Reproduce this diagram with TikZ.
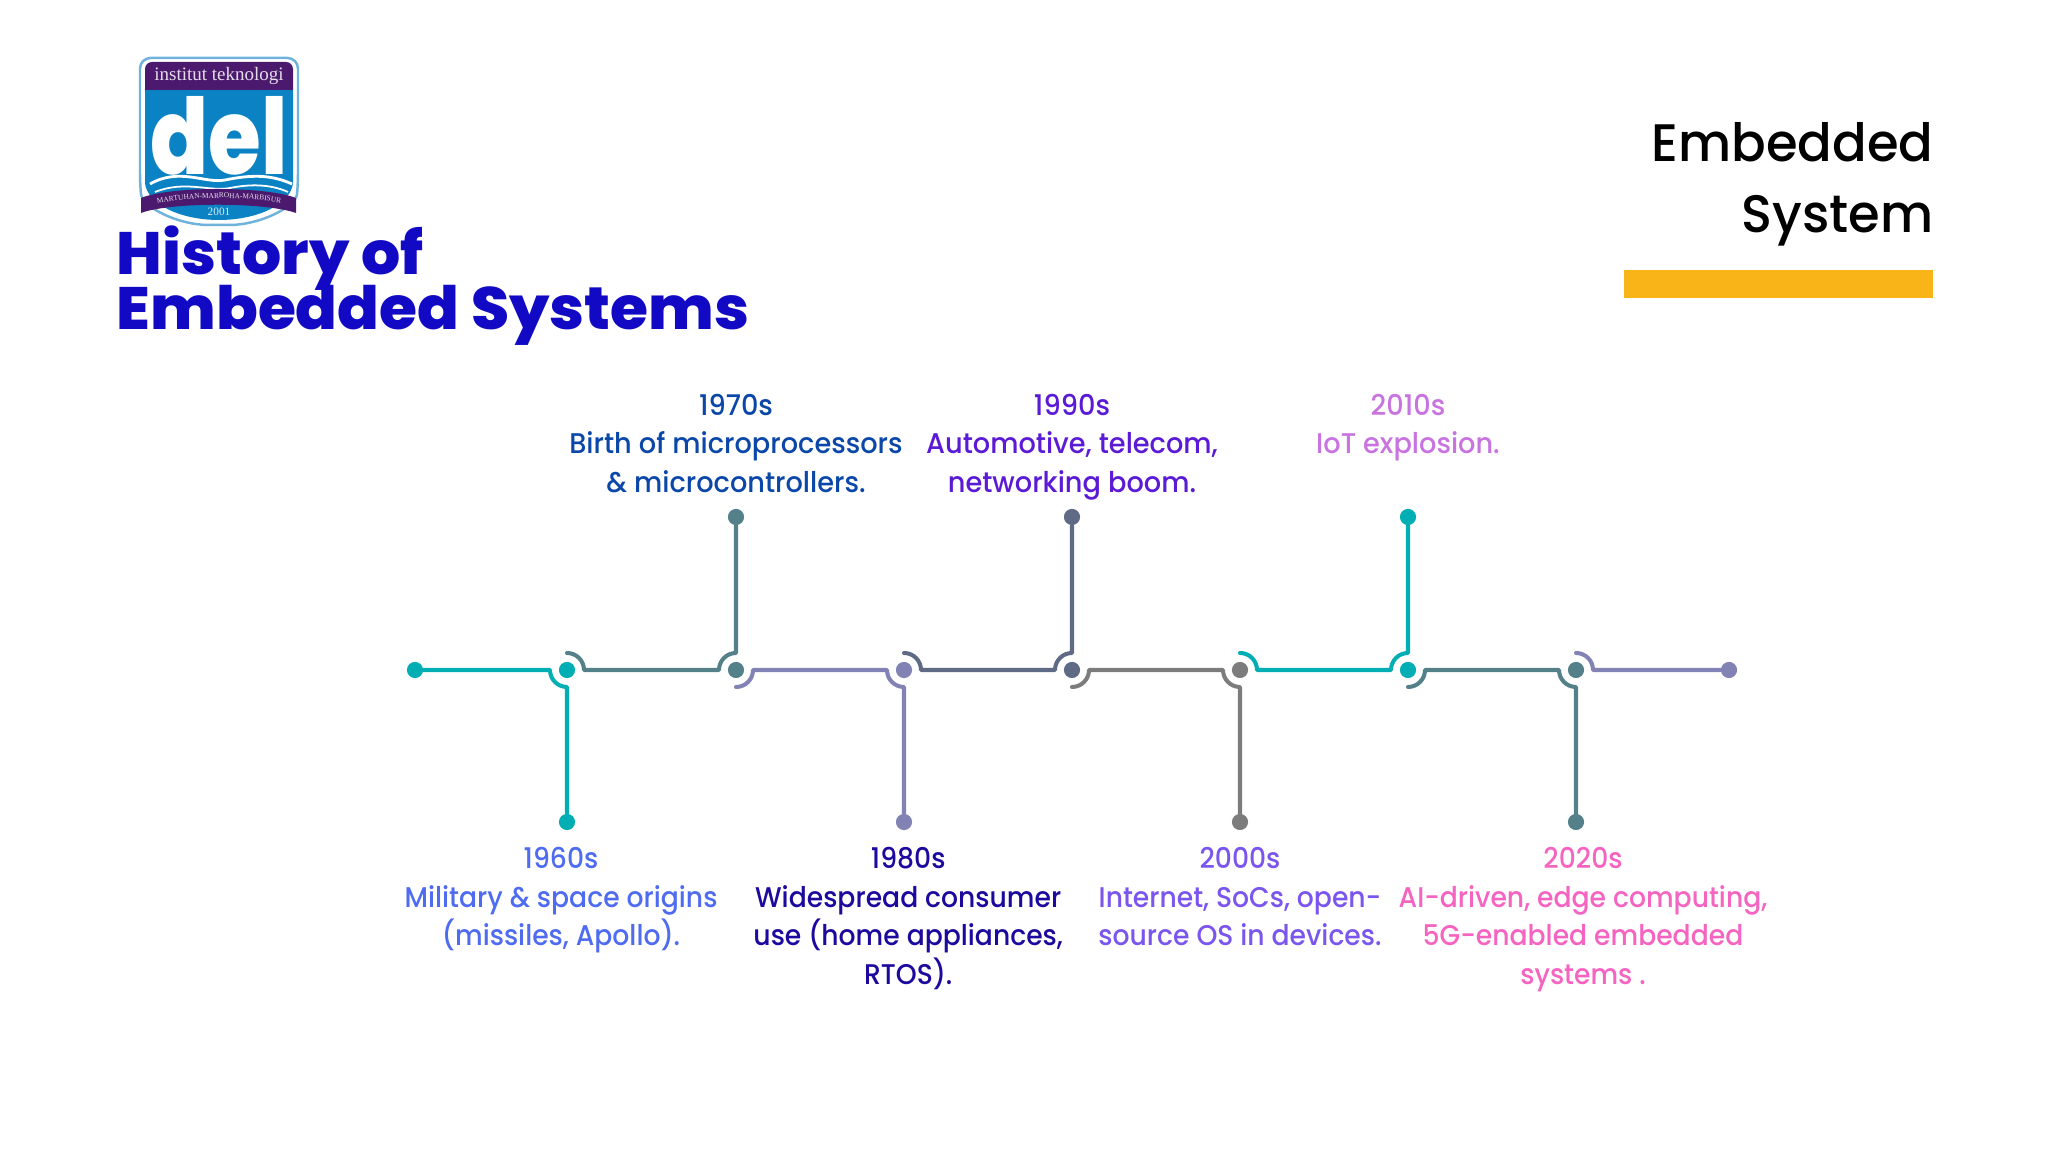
\documentclass[tikz,border=0pt]{standalone}
\usepackage{fontspec}
\setmainfont{Poppins}
\newfontfamily\labelfont{Poppins Medium}[FakeStretch=.955]
\newfontfamily\lowfont{Poppins Medium}[FakeStretch=.935]
\newfontfamily\cornerfont{Poppins Medium}[FakeStretch=.97]
\newfontfamily\titlefont{Poppins ExtraBold}[FakeStretch=1.03]
\newfontfamily\logosans{Poppins ExtraBold}
\newfontfamily\logoserif{Liberation Serif}
\usetikzlibrary{calc,positioning,decorations.text}
\definecolor{tealline}{HTML}{00AEB3}
\definecolor{slateline}{HTML}{54808A}
\definecolor{purpleline}{HTML}{8282B5}
\definecolor{duskline}{HTML}{5F6A84}
\definecolor{grayline}{HTML}{7C7C7C}
\definecolor{titleblue}{HTML}{1209C4}
\definecolor{barorange}{HTML}{F9B418}
\definecolor{logopurple}{HTML}{4B1A6E}
\definecolor{logoblue}{HTML}{0B82C4}
\definecolor{logoedge}{HTML}{6FB3DC}
\definecolor{textsixty}{HTML}{4F6CF0}
\definecolor{textseventy}{HTML}{0A47A8}
\definecolor{texteighty}{HTML}{1C0A9E}
\definecolor{textninety}{HTML}{5A1AD6}
\definecolor{textnoughts}{HTML}{7A55EE}
\definecolor{texttens}{HTML}{C873E0}
\definecolor{texttwenties}{HTML}{F564C0}
\tikzset{x=0.01cm,y=0.01cm,
	node distance=4pt,
	dotnode/.style={
		circle,
		minimum size=4.6pt,
		inner sep=0pt,
		fill=#1
	},
	seg/.style={
		draw=#1,
		line width=1.15pt,
		line cap=round,
		line join=round
	},
	yeartext/.style={
		align=center,
		inner sep=0pt,
		font=\lowfont\fontsize{8.1}{10.95}\selectfont
	},
	uptext/.style={
		yeartext,
		font=\labelfont\fontsize{8.1}{10.95}\selectfont,
		text depth=0pt
	},
	titletext/.style={
		anchor=base west,
		inner sep=0pt,
		text=titleblue,
		font=\titlefont\fontsize{17}{15.65}\selectfont
	},
	cornertext/.style={
		anchor=base east,
		inner sep=0pt,
		font=\cornerfont\fontsize{15}{15}\selectfont
	}
}
\begin{document}
\begin{tikzpicture}
	\useasboundingbox (0,0) rectangle (2048,1152);

	% logo
	\fill[white,draw=logoedge,line width=.7pt,rounded corners=3pt] (140,1094) -- (298,1094) -- (298,969)
		.. controls (296,945) and (260,927) .. (219,927)
		.. controls (178,927) and (142,945) .. (140,969) -- cycle;
	\fill[logoblue] (145,1062) -- (293,1062) -- (293,969)
		.. controls (291,948) and (258,932) .. (219,932)
		.. controls (180,932) and (147,948) .. (145,969) -- cycle;
	\fill[logopurple] (145,1062) [rounded corners=2pt] -- (145,1090) -- (293,1090) [sharp corners] -- (293,1062) -- cycle;
	\node[inner sep=0pt,text=white!85!logopurple,font=\logoserif\fontsize{5.4}{6}\selectfont] (logotop) at (219,1076) {institut teknologi};
	\node[inner sep=0pt,anchor=base,text=white,xscale=.81,font=\logosans\fontsize{30}{30}\selectfont] (logodel) at (219,977) {del};
	\draw[white,line width=.8pt] (150,968) .. controls (180,985) and (205,968) .. (225,972) .. controls (250,977) and (270,978) .. (292,968);
	\draw[white,line width=.5pt] (155,960) .. controls (185,972) and (210,960) .. (230,964) .. controls (250,968) and (270,968) .. (288,960);
	\fill[logopurple] (141,954) .. controls (170,966) and (265,966) .. (296,954) -- (296,939)
		.. controls (265,950) and (170,950) .. (141,939) -- cycle;
	\path[decorate,decoration={text along path,text align=center,
		text={|\logoserif\fontsize{2.1}{2}\selectfont\color{white!85!logopurple}|MARTUHAN-MARROHA-MARBISUR}}]
		(145,945) .. controls (175,957) and (265,957) .. (293,945);
	\node[inner sep=0pt,text=white!85!logoblue,font=\logoserif\fontsize{3.2}{3}\selectfont] (logoyear) at (219,940) {2001};

	% headings
	\node[titletext] (title1) at (116,877) {History of};
	\node[titletext] (title2) at (116,822) {Embedded Systems};
	\node[cornertext] (corner1) at (1934,990) {Embedded};
	\node[cornertext] (corner2) at (1934,919) {System};
	\fill[barorange] (1624,882) rectangle (1933,854);

	% dots on the line
	\node[dotnode=tealline] (d0) at (415,482) {};
	\node[dotnode=tealline] (j60) at (567,482) {};
	\node[dotnode=slateline] (j70) at (736,482) {};
	\node[dotnode=purpleline] (j80) at (904,482) {};
	\node[dotnode=duskline] (j90) at (1072,482) {};
	\node[dotnode=grayline] (j00) at (1240,482) {};
	\node[dotnode=tealline] (j10) at (1408,482) {};
	\node[dotnode=slateline] (j20) at (1576,482) {};
	\node[dotnode=purpleline] (d9) at (1729,482) {};

	\node[dotnode=tealline] (e60) at (567,330) {};
	\node[dotnode=slateline] (e70) at (736,635) {};
	\node[dotnode=purpleline] (e80) at (904,330) {};
	\node[dotnode=duskline] (e90) at (1072,635) {};
	\node[dotnode=grayline] (e00) at (1240,330) {};
	\node[dotnode=tealline] (e10) at (1408,635) {};
	\node[dotnode=slateline] (e20) at (1576,330) {};

	% connectors
	\draw[seg=tealline] (d0) -- ($(j60)+(-17,0)$) arc[start angle=180,end angle=270,radius=17] -- (e60);
	\foreach \from/\to/\tip/\s/\col in {j60/j70/e70/1/slateline,j70/j80/e80/-1/purpleline,j80/j90/e90/1/duskline,
		j90/j00/e00/-1/grayline,j00/j10/e10/1/tealline,j10/j20/e20/-1/slateline}
		\draw[seg=\col] ($(\from)+(0,\s*17)$) arc[start angle=90*\s,end angle=0,radius=17]
			-- ($(\to)+(-17,0)$) arc[start angle=180,end angle=180-90*\s,radius=17] -- (\tip);
	\draw[seg=purpleline] ($(j20)+(0,17)$) arc[start angle=90,end angle=0,radius=17] -- (d9);

	% labels
	\node[uptext,text=textseventy,above=4.35pt of e70] (t70) {1970s\\Birth of microprocessors\\\& microcontrollers.};
	\node[uptext,text=textninety,above=4.35pt of e90] (t90) {1990s\\Automotive, telecom,\\networking boom.};
	\node[uptext,text=texttens,above=15.3pt of e10] (t10) {2010s\\IoT explosion.};
	\node[yeartext,text=textsixty,below=4.5pt of e60,xshift=-1.7pt] (t60) {1960s\\Military \& space origins\\(missiles, Apollo).};
	\node[yeartext,text=texteighty,below=4.5pt of e80,xshift=1.2pt] (t80) {1980s\\Widespread consumer\\use (home appliances,\\RTOS).};
	\node[yeartext,text=textnoughts,below=4.5pt of e00] (t00) {2000s\\Internet, SoCs, open-\\source OS in devices.};
	\node[yeartext,text=texttwenties,below=4.5pt of e20,xshift=2pt] (t20) {2020s\\AI-driven, edge computing,\\5G-enabled embedded\\systems .};
\end{tikzpicture}
\end{document}
